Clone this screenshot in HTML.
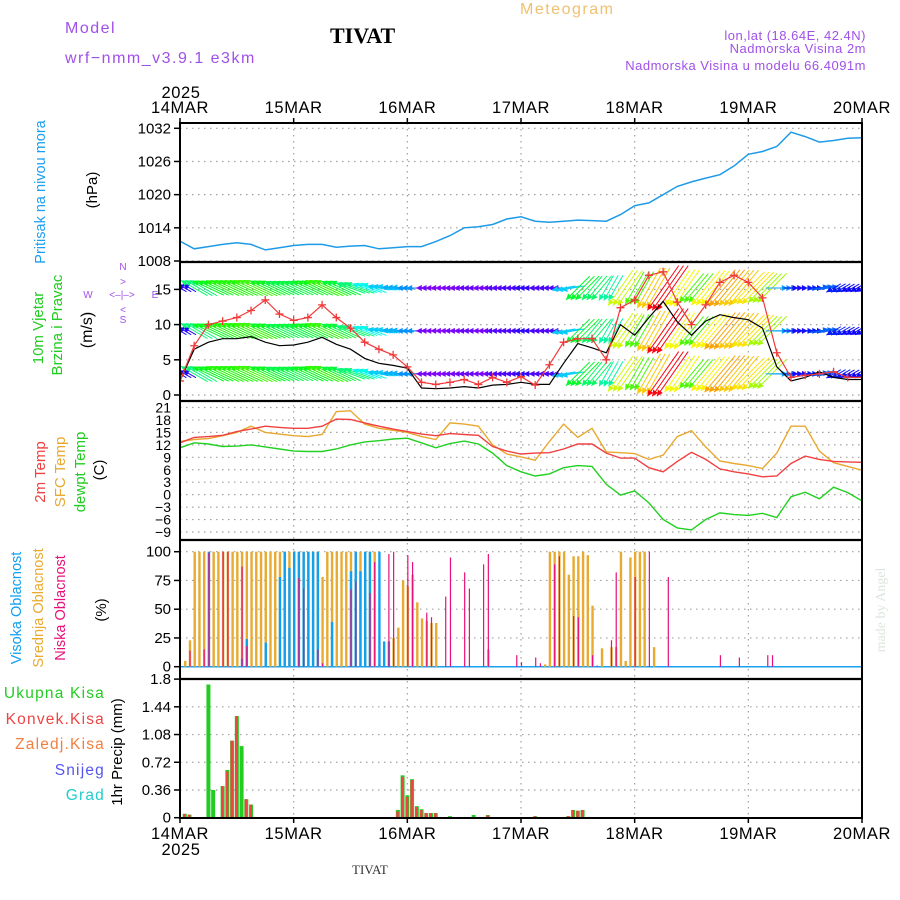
<!DOCTYPE html>
<html><head><meta charset="utf-8"><style>
html,body{margin:0;padding:0;background:#fff;}
svg{display:block;font-family:"Liberation Sans",sans-serif;}
</style></head><body>
<svg id="chart" width="900" height="900" viewBox="0 0 900 900" xmlns="http://www.w3.org/2000/svg">
<rect x="0" y="0" width="900" height="900" fill="#fff"/>
<text x="65" y="33" font-size="16" fill="#a050e8" letter-spacing="1.5">Model</text>
<text x="65" y="63" font-size="16" fill="#a050e8" letter-spacing="1.5">wrf−nmm_v3.9.1 e3km</text>
<text x="330" y="43" font-size="22" font-weight="bold" font-family="Liberation Serif,serif" fill="#000">TIVAT</text>
<text x="520" y="14" font-size="16" fill="#f0c070" letter-spacing="1.5">Meteogram</text>
<text x="866" y="40" font-size="13" fill="#a050e8" text-anchor="end" letter-spacing="0.5">lon,lat (18.64E, 42.4N)</text>
<text x="866" y="53" font-size="13" fill="#a050e8" text-anchor="end" letter-spacing="0.5">Nadmorska Visina 2m</text>
<text x="866" y="70" font-size="13" fill="#a050e8" text-anchor="end" letter-spacing="0.5">Nadmorska Visina u modelu 66.4091m</text>
<text x="352" y="874" font-size="13" font-family="Liberation Serif,serif" fill="#333">TIVAT</text>
<text transform="translate(885,610) rotate(-90)" font-size="14" font-family="Liberation Serif,serif" fill="#dde6dd" text-anchor="middle">made by Angel</text>
<g id="plot"></g>
</svg>
<script>
// ---- data (3-hourly, 14MAR 00 .. 20MAR 00) ----
const dayLabels = ["14MAR","15MAR","16MAR","17MAR","18MAR","19MAR","20MAR"];
const pressure = [1011.6,1010.2,1010.6,1011,1011.3,1011,1010,1010.4, 1010.8,1011,1011,1010.5,1010.7,1010.8,1010.2,1010.4, 1010.6,1010.6,1011.5,1012.6,1014,1014.2,1014.6,1015.6, 1016,1015.2,1015,1015.2,1015.4,1015.3,1015.2,1016.4, 1018,1018.5,1020,1021.5,1022.3,1023,1023.6,1025.2, 1027.3,1027.8,1028.7,1031.3,1030.5,1029.5,1029.8,1030.2, 1030.3];
const windSpeed = [2,6.5,7.5,8,8,8.3,7.5,7, 7.1,7.5,8.2,7.2,6.5,5.2,4.5,4.2, 3.8,1,0.9,1,1.2,1,1.4,1.5, 1.8,1.5,1.5,4.5,7.3,6.7,6,10, 8.5,11,13.3,10.4,8.5,10.5,11.4,11, 10.7,9.5,4,2,2.5,3.3,2.5,2.2, 2.2];
const windGust = [2,7,10,10.5,11,12,13.5,11.5, 10.6,11,12.8,11,9.5,7.5,6.5,5.7, 4,1.8,1.5,1.8,2.2,1.5,2.5,1.8, 2.6,1.4,4.3,7.5,8,8,5,12.4, 13.5,17,17.5,13.2,10,12.8,16,17, 16,13.8,6,2.5,2.8,3,3.3,2.5, 2.5];
const windDir = [120,120,115,115,115,115,115,115, 115,115,115,115,110,110,100,95, 90,90,90,90,90,90,90,90, 90,90,90,80,45,40,30,35, 30,30,35,35,40,40,40,40, 45,45,270,270,270,260,60,60, 60];
const temp2m = [12.5,13.8,14,14.3,15.2,15.8,16.5,16.2, 16,16,16.5,18.2,18.1,17.3,16.5,15.8, 15.2,14.6,14.2,14.7,14.5,14.3,11.6,10.5, 9.8,10,10.1,11,12.2,12.2,10,8.8, 8.8,6.5,5.5,8,10.2,8.5,6.2,5.5, 5,4.3,4.5,7.5,9.3,8.5,8,7.9, 7.8];
const tempSfc = [12.8,13.3,13.5,14.2,15,16.5,15,14.6, 14.2,14,14.5,20,20.2,17,16,15.5, 15,14,13.3,17.3,17,16.5,12,9.8, 9.1,8.3,12.8,17,13.8,16,10.3,10.1, 9.9,8.5,9.5,14,15.4,11.5,8.1,7.5, 7,6.3,10,16.5,16.5,10.5,7.7,6.8, 5.9];
const tempDew = [11.3,12.5,12.2,11.6,11.7,12,11.5,11, 10.5,10.4,10.4,11,12,12.7,13,13.4, 13.6,12.5,11.3,12.3,12.9,12.2,10,7, 5.5,4.5,5,6.5,7,6.8,2.5,-0.1, 0.9,-2,-6,-8,-8.5,-6,-4.4,-4.8, -5,-4.5,-5.5,-0.5,0.6,-1,1.8,0.5, -1.5];
// cloud cover (hourly, sparse: hour index + percent)
const midHours = [1,2,3,4,5,6,7,8,9,10,11,12,13,14,15,16,17,18,19,20,21,22,23,24,25,26,27,28,29,30,31,32,33,34,35,36,37,38,39,40,41,42,45,46,47,48,49,50,51,52,53,54,65,77,78,79,80,81,82,83,84,85,86,87,89,91,92,93,94,95,96,97,98,100];
const midPct = [5,23,100,100,100,100,100,100,100,100,100,100,100,100,100,100,100,100,100,100,100,100,100,100,100,100,100,100,100,78,100,100,100,100,100,100,100,100,100,100,100,3,25,34,75,70,80,56,42,40,38,38,15,2,100,100,100,100,80,96,96,100,97,53,16,17,17,100,5,95,100,100,100,17];
const highHours = [6,13,14,18,21,22,23,24,25,26,27,28,29,32,36,37,38,39,40,42,43,44];
const highPct = [100,7,24,21,78,100,86,100,100,100,100,100,100,39,83,100,83,100,100,100,22,22];
const lowHours = [2,5,6,9,10,13,14,25,26,29,30,36,37,40,41,44,45,48,49,52,53,56,57,60,61,64,65,71,72,75,76,79,80,83,84,87,88,91,92,96,99,103,114,118,124,125];
const lowPct = [14,15,99,100,100,87,18,77,68,15,3,67,74,64,91,98,100,97,91,47,43,61,95,82,68,89,98,10,4,8,3,89,96,44,43,10,1,23,82,78,100,78,10,8,10,10];
// precipitation (hourly, sparse)
const precipHours = [1,2,6,7,9,10,11,12,13,14,15,46,47,48,49,50,51,52,53,54,57,62,65,75,82,83,84,85];
const precipTotal = [0.05,0.04,1.73,0.36,0.41,0.62,1.0,1.32,0.93,0.24,0.17,0.10,0.55,0.29,0.50,0.15,0.11,0.06,0.06,0.06,0.02,0.035,0.035,0.02,0.02,0.10,0.09,0.10];
const precipConv = [0.05,0.04,0,0,0.41,0.6,1.0,1.32,0,0.24,0.17,0.08,0.53,0.27,0.49,0.14,0.10,0.06,0.06,0.06,0,0,0.03,0.02,0.02,0.10,0.09,0.10];
const pTicks = [1008,1014,1020,1026,1032];
const wTicks = [0,5,10,15];
const tTicks = [-9,-6,-3,0,3,6,9,12,15,18,21];
const cTicks = [0,25,50,75,100];
const rTicks = [0,0.36,0.72,1.08,1.44,1.8];
const rTickLabels = ["0","0.36","0.72","1.08","1.44","1.8"];

// ---- scales ----
const X0=180, X1=862;
function xH(h){return X0 + h*(X1-X0)/144;}
function x3(i){return xH(i*3);}
function yP(p){return 261 - (p-1008)*(132.7/24);}
function yW(s){return 395 - s*7.04;}
function yT(t){return 532 - (t+9)*4.15;}
function yC(c){return 666.7 - c*1.15;}
function yR(r){return 817.7 - r*77;}

const NS="http://www.w3.org/2000/svg";
const plot=document.getElementById('plot');
function mk(tag,attrs,parent){const e=document.createElementNS(NS,tag);for(const k in attrs)e.setAttribute(k,attrs[k]);(parent||plot).appendChild(e);return e;}

const defs=mk('defs',{});
const panels=[['clipP',123,262],['clipW',262,401],['clipT',401,540],['clipC',540,679],['clipR',679,818]];
panels.forEach(p=>{const c=mk('clipPath',{id:p[0]},defs);mk('rect',{x:X0,y:p[1],width:X1-X0,height:p[2]-p[1]},c);});

// grid
const grid=mk('g',{stroke:'#a0a0a0','stroke-width':1.2,'stroke-dasharray':'1.5 4.5'});


function hgrid(ys){ys.forEach(y=>{const l=mk('line',{x1:X0,x2:X1,y1:y,y2:y},grid);});}
hgrid(pTicks.map(yP));hgrid(wTicks.map(yW));hgrid(tTicks.map(yT));hgrid(cTicks.map(yC));hgrid(rTicks.map(yR));
for(let d=1;d<6;d++){const l=mk('line',{x1:xH(d*24),x2:xH(d*24),y1:123,y2:818},grid);}

function ticks(vals,labels,yf,name){
  vals.forEach((v,i)=>{
    const y=yf(v);
    const t=mk('text',{x:171,y:y+5,'font-size':15,'text-anchor':'end',fill:'#000'});
    t.textContent=labels?labels[i]:String(v).replace('-','−');
    
    
    const m=mk('line',{x1:174,x2:180,y1:y,y2:y,stroke:'#000','stroke-width':1.5});
    
    
  });
}
ticks(pTicks,null,yP,'pressure');ticks(wTicks,null,yW,'wind');
tTicks.forEach(v=>{const y=yT(v);const t=mk('text',{x:171,y:y+5,'font-size':14,'text-anchor':'end',fill:'#000'});t.textContent=String(v).replace('-','−');

});
ticks(cTicks,null,yC,'cloud');ticks(rTicks,rTickLabels,yR,'precip');

function pathFrom(arr,yf){return arr.map((v,i)=>(i?'L':'M')+x3(i).toFixed(1)+','+yf(v).toFixed(1)).join('');}
const pl=mk('path',{d:pathFrom(pressure,yP),fill:'none',stroke:'#1e9be8','stroke-width':1.5,'clip-path':'url(#clipP)'});



// wind arrows
const wg=mk('g',{'clip-path':'url(#clipW)'});


const rowVals=[3,9.1,15.2];
function speedColor(s){let h=290-22*s; if(h<0)h+=360; return 'hsl('+h.toFixed(0)+',95%,50%)';}
windDir.forEach((d,i)=>{
  const s=windSpeed[i], L=8+3.5*s, rad=d*Math.PI/180;
  const dx=-Math.sin(rad), dy=Math.cos(rad), col=speedColor(s);
  rowVals.forEach(rv=>{
    for(let k=0;k<3;k++){
      if(i===48&&k>0)continue;
      const cx=x3(i)+k*4.74, cy=yW(rv);
      const hx=cx+dx*L/2, hy=cy+dy*L/2, tx=cx-dx*L/2, ty=cy-dy*L/2;
      const a=mk('line',{x1:tx,y1:ty,x2:hx,y2:hy,stroke:col,'stroke-width':1},wg);
      
      
      const px=-dy,py=dx;
      const hd=mk('polygon',{points:[hx,hy,hx-dx*6+px*3,hy-dy*6+py*3,hx-dx*6-px*3,hy-dy*6-py*3].map(v=>v.toFixed(1)).join(' '),fill:col},wg);
      
      
    }
  });
});
const ws=mk('path',{d:pathFrom(windSpeed,yW),fill:'none',stroke:'#000','stroke-width':1.2,'clip-path':'url(#clipW)'});


const wgst=mk('path',{d:pathFrom(windGust,yW),fill:'none',stroke:'#f03a3a','stroke-width':1.2,'clip-path':'url(#clipW)'});


windGust.forEach((g,i)=>{const x=x3(i),y=yW(g);
  const m=mk('path',{d:`M${x-4},${y}h8M${x},${y-4}v8`,stroke:'#f03a3a','stroke-width':1.3,'clip-path':'url(#clipW)'});
  
  });

[[tempSfc,'#e8a830','sfc-temp-line'],[temp2m,'#f04040','2m-temp-line'],[tempDew,'#22d022','dewpoint-line']].forEach(t=>{
  const p=mk('path',{d:pathFrom(t[0],yT),fill:'none',stroke:t[1],'stroke-width':1.4,'clip-path':'url(#clipT)'});
  
  
});

const base=mk('line',{x1:X0,x2:X1,y1:yC(0),y2:yC(0),stroke:'#1aa0f0','stroke-width':1.5});


function bars(hours,vals,col,w,name){hours.forEach((h,i)=>{const x=xH(h)+0.5,y=yC(vals[i]);
  const r=mk('rect',{x:x-w/2,y:y,width:w,height:yC(0)-y,fill:col});
  
  });}
bars(midHours,midPct,'#e8aa30',2.4,'mid-cloud-bar');
bars(highHours,highPct,'#10a0f0',2.4,'high-cloud-bar');
bars(lowHours,lowPct,'#e8107a',1.2,'low-cloud-bar');

precipHours.forEach((h,i)=>{const x=xH(h);
  const yt=yR(precipTotal[i]);
  const g=mk('rect',{x:x-2,y:yt,width:4,height:yR(0)-yt,fill:'#22cc22'});
  
  
  if(precipConv[i]>0){const yc=yR(precipConv[i]);
  const r=mk('rect',{x:x-1.6,y:yc,width:2.6,height:yR(0)-yc,fill:'#ee4444'});
  
  }
});

const fr=mk('g',{stroke:'#000',fill:'none'});


mk('rect',{x:X0,y:123,width:X1-X0,height:695,'stroke-width':2},fr);
[262,401,540,679].forEach(y=>mk('line',{x1:X0,x2:X1,y1:y,y2:y,'stroke-width':2.2},fr));
for(let d=0;d<=6;d++){const x=xH(d*24);mk('line',{x1:x,x2:x,y1:118,y2:123,'stroke-width':1.5},fr);mk('line',{x1:x,x2:x,y1:818,y2:823,'stroke-width':1.5},fr);}

dayLabels.forEach((d,i)=>{const x=xH(i*24);
  const t=mk('text',{x:x,y:113,'font-size':16.5,'text-anchor':'middle',fill:'#000','letter-spacing':0.6});t.textContent=d;
  
  
  const b=mk('text',{x:x,y:839,'font-size':16.5,'text-anchor':'middle',fill:'#000','letter-spacing':0.6});b.textContent=d;
  
  
});
[[181,98],[181,855]].forEach(p=>{const t=mk('text',{x:p[0],y:p[1],'font-size':16.5,'text-anchor':'middle',fill:'#000','letter-spacing':0.6});t.textContent='2025';

});

function vtext(x,y,txt,col,name,size){const t=mk('text',{transform:`translate(${x},${y}) rotate(-90)`,'font-size':size||14,'text-anchor':'middle',fill:col});t.textContent=txt;
  
  }
vtext(45,192,'Pritisak na nivou mora','#1aa0f0','pressure-axis-title',14.5);
vtext(97,190,'(hPa)','#000','pressure-unit',15);
vtext(43,328,'10m Vjetar','#22cc22','wind-axis-title',15);
vtext(62,325,'Brzina i Pravac','#22cc22','wind-axis-subtitle',15);
vtext(92,330,'(m/s)','#000','wind-unit',16);
vtext(45,472,'2m Temp','#f04040','temp-2m-title',15);
vtext(65,472,'SFC Temp','#e8a830','temp-sfc-title',15);
vtext(85,472,'dewpt Temp','#22cc22','temp-dew-title',15);
vtext(104,470,'(C)','#000','temp-unit',15);
vtext(21,608,'Visoka Oblacnost','#10a0f0','high-cloud-title',14.5);
vtext(43,608,'Srednja Oblacnost','#e8aa30','mid-cloud-title',14.5);
vtext(65,608,'Niska Oblacnost','#e8107a','low-cloud-title',14.5);
vtext(106,610,'(%)','#000','cloud-unit',15);
vtext(122,752,'1hr Precip (mm)','#000','precip-axis-title',15);
const cp=mk('g',{fill:'#a050e8','font-size':10,'text-anchor':'middle'});


[['N',123,270],['S',123,323],['W',88,298],['E',155,298],['<–|–>',122,298],['>',123,285],['<',123,313]].forEach(c=>{const t=mk('text',{x:c[1],y:c[2]},cp);t.textContent=c[0];});
[['Ukupna Kisa','#22cc22',698],['Konvek.Kisa','#ee4444',724],['Zaledj.Kisa','#f08040',749],['Snijeg','#5555ee',775],['Grad','#22cccc',800]].forEach(l=>{
  const t=mk('text',{x:105,y:l[2],'font-size':15.5,'text-anchor':'end',fill:l[1],'letter-spacing':1.2});t.textContent=l[0];
  
  });
</script>
</body></html>
